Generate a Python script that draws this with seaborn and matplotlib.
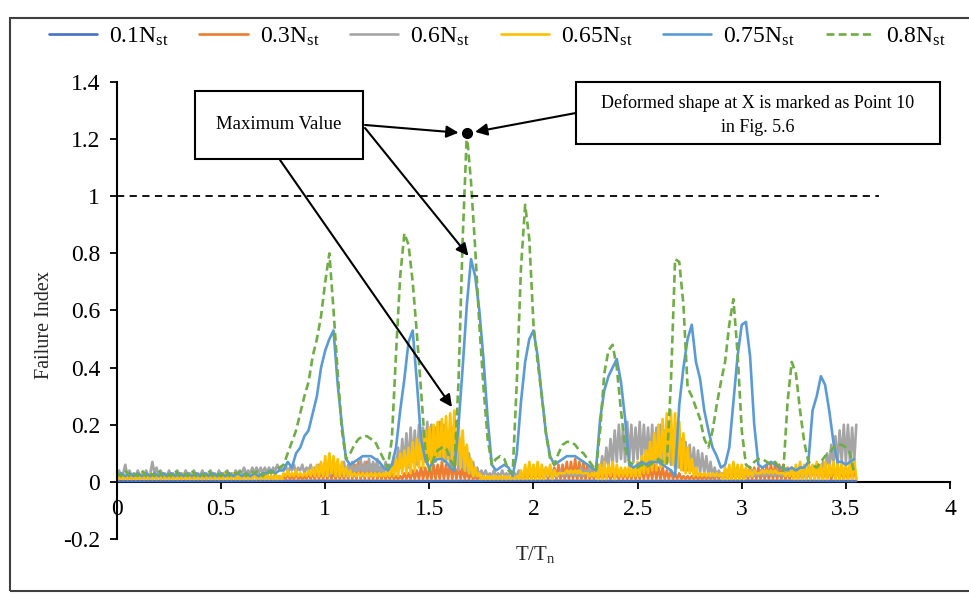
import numpy as np
import pandas as pd
import matplotlib
matplotlib.use("Agg")
import matplotlib.pyplot as plt
from matplotlib.patches import Rectangle
from matplotlib.lines import Line2D
from matplotlib.ticker import FuncFormatter
import seaborn as sns

# ---------------------------------------------------------------- data
# normalised time T/Tn
T_FINE = np.round(np.arange(356) * 0.01, 2)      # 0.00 ... 3.55
T_COARSE = np.round(np.arange(178) * 0.02, 2)    # 0.00 ... 3.54
T_SPARSE = [0.0, 0.5, 1.0, 1.5, 2.0, 2.5, 3.0, 3.55]

CASES = ["0.1", "0.3", "0.6", "0.65", "0.75", "0.8"]
COLORS = ["#4472C4", "#ED7D31", "#A5A5A5", "#FFC000", "#5B9BD5", "#70AD47"]

FAIL_LIMIT = 1.0
LIMIT_END = 3.66

fi_01 = [0.003, 0.003, 0.004, 0.003, 0.004, 0.003, 0.004, 0.003]

fi_03 = [
    0.02, 0.01, 0.02, 0.01, 0.02, 0.01, 0.02, 0.01, 0.02, 0.01,
    0.02, 0.01, 0.02, 0.01, 0.02, 0.01, 0.02, 0.01, 0.02, 0.01,
    0.02, 0.01, 0.02, 0.01, 0.02, 0.01, 0.02, 0.01, 0.02, 0.01,
    0.02, 0.01, 0.02, 0.01, 0.02, 0.01, 0.02, 0.01, 0.02, 0.01,
    0.02, 0.01, 0.02, 0.01, 0.02, 0.01, 0.02, 0.01, 0.02, 0.01,
    0.02, 0.01, 0.03, 0.01, 0.02, 0.01, 0.03, 0.01, 0.02, 0.01,
    0.02, 0.01, 0.03, 0.01, 0.02, 0.01, 0.03, 0.01, 0.02, 0.01,
    0.02, 0.01, 0.03, 0.01, 0.02, 0.01, 0.03, 0.01, 0.02, 0.01,
    0.02, 0.01, 0.03, 0.01, 0.02, 0.01, 0.03, 0.01, 0.02, 0.01,
    0.02, 0.01, 0.03, 0.01, 0.03, 0.01, 0.04, 0.01, 0.04, 0.01,
    0.05, 0.01, 0.05, 0.01, 0.04, 0.01, 0.05, 0.01, 0.04, 0.01,
    0.05, 0.01, 0.06, 0.01, 0.06, 0.01, 0.07, 0.01, 0.06, 0.01,
    0.07, 0.01, 0.06, 0.01, 0.06, 0.01, 0.05, 0.01, 0.04, 0.01,
    0.03, 0.01, 0.03, 0.01, 0.02, 0.01, 0.02, 0.01, 0.03, 0.01,
    0.03, 0.01, 0.04, 0.01, 0.04, 0.01, 0.05, 0.01, 0.05, 0.01,
    0.05, 0.01, 0.06, 0.01, 0.06, 0.01, 0.07, 0.01, 0.06, 0.01,
    0.07, 0.01, 0.06, 0.01, 0.06, 0.01, 0.05, 0.01, 0.04, 0.01,
    0.03, 0.01, 0.02, 0.01, 0.02, 0.01, 0.02, 0.01, 0.02, 0.01,
    0.02, 0.01, 0.02, 0.01, 0.02, 0.01, 0.02, 0.01, 0.02, 0.01,
    0.02, 0.01, 0.02, 0.01, 0.03, 0.01, 0.03, 0.01, 0.04, 0.01,
    0.04, 0.01, 0.04, 0.01, 0.04, 0.01, 0.05, 0.01, 0.05, 0.01,
    0.05, 0.01, 0.06, 0.01, 0.06, 0.01, 0.07, 0.01, 0.07, 0.01,
    0.08, 0.01, 0.07, 0.01, 0.07, 0.01, 0.06, 0.01, 0.05, 0.01,
    0.04, 0.01, 0.03, 0.01, 0.03, 0.01, 0.03, 0.01, 0.03, 0.01,
    0.03, 0.01, 0.04, 0.01, 0.04, 0.01, 0.04, 0.01, 0.05, 0.01,
    0.05, 0.01, 0.05, 0.01, 0.06, 0.01, 0.05, 0.01, 0.06, 0.01,
    0.05, 0.01, 0.05, 0.01, 0.04, 0.01, 0.04, 0.01, 0.03, 0.01,
    0.03, 0.01, 0.02, 0.01, 0.02, 0.01, 0.02, 0.01, 0.02, 0.01,
    0.02, 0.01, 0.02, 0.01, 0.02, 0.01, 0.02, 0.01, 0.03, 0.01,
    0.03, 0.01, 0.03, 0.01, 0.04, 0.01, 0.04, 0.01, 0.04, 0.01,
    0.04, 0.01, 0.04, 0.01, 0.05, 0.01, 0.05, 0.01, 0.05, 0.01,
    0.05, 0.01, 0.06, 0.01, 0.06, 0.01, 0.06, 0.01, 0.06, 0.01,
    0.06, 0.01, 0.05, 0.01, 0.05, 0.01, 0.05, 0.01, 0.04, 0.01,
    0.04, 0.01, 0.04, 0.01, 0.05, 0.01, 0.05, 0.01, 0.05, 0.01,
    0.05, 0.01, 0.05, 0.01, 0.05, 0.01, 0.05, 0.01, 0.04, 0.01,
    0.04, 0.01, 0.04, 0.01, 0.04, 0.01,
]

fi_06 = [
    0.02, 0.04, 0.02, 0.03, 0.06, 0.02, 0.04, 0.02, 0.03, 0.02,
    0.04, 0.02, 0.03, 0.02, 0.04, 0.02, 0.03, 0.07, 0.03, 0.05,
    0.02, 0.04, 0.02, 0.03, 0.02, 0.04, 0.02, 0.03, 0.02, 0.04,
    0.02, 0.03, 0.02, 0.04, 0.02, 0.03, 0.02, 0.04, 0.02, 0.03,
    0.02, 0.04, 0.02, 0.03, 0.02, 0.04, 0.02, 0.03, 0.02, 0.04,
    0.02, 0.03, 0.02, 0.04, 0.02, 0.03, 0.02, 0.04, 0.03, 0.04,
    0.03, 0.05, 0.03, 0.04, 0.03, 0.05, 0.03, 0.05, 0.03, 0.05,
    0.03, 0.05, 0.03, 0.05, 0.03, 0.05, 0.04, 0.06, 0.04, 0.05,
    0.04, 0.06, 0.03, 0.05, 0.04, 0.06, 0.03, 0.05, 0.04, 0.06,
    0.03, 0.05, 0.04, 0.06, 0.03, 0.05, 0.04, 0.06, 0.03, 0.05,
    0.03, 0.06, 0.02, 0.05, 0.03, 0.06, 0.02, 0.05, 0.03, 0.07,
    0.02, 0.06, 0.03, 0.07, 0.02, 0.06, 0.03, 0.08, 0.02, 0.07,
    0.03, 0.08, 0.02, 0.07, 0.03, 0.08, 0.02, 0.06, 0.03, 0.07,
    0.02, 0.06, 0.03, 0.09, 0.04, 0.12, 0.05, 0.15, 0.06, 0.17,
    0.05, 0.19, 0.07, 0.18, 0.06, 0.20, 0.08, 0.19, 0.07, 0.21,
    0.08, 0.20, 0.07, 0.19, 0.09, 0.21, 0.08, 0.20, 0.07, 0.18,
    0.06, 0.19, 0.05, 0.17, 0.04, 0.15, 0.05, 0.12, 0.04, 0.10,
    0.03, 0.07, 0.02, 0.05, 0.02, 0.04, 0.02, 0.04, 0.02, 0.03,
    0.02, 0.04, 0.02, 0.03, 0.02, 0.04, 0.02, 0.03, 0.02, 0.04,
    0.02, 0.03, 0.02, 0.04, 0.02, 0.03, 0.02, 0.04, 0.02, 0.03,
    0.02, 0.04, 0.02, 0.03, 0.02, 0.04, 0.02, 0.03, 0.02, 0.04,
    0.02, 0.03, 0.02, 0.04, 0.02, 0.03, 0.02, 0.04, 0.02, 0.03,
    0.02, 0.04, 0.02, 0.05, 0.02, 0.04, 0.03, 0.05, 0.02, 0.04,
    0.03, 0.06, 0.03, 0.09, 0.04, 0.12, 0.05, 0.15, 0.06, 0.18,
    0.07, 0.20, 0.08, 0.19, 0.07, 0.21, 0.08, 0.20, 0.07, 0.19,
    0.08, 0.21, 0.07, 0.20, 0.08, 0.19, 0.07, 0.20, 0.08, 0.19,
    0.07, 0.20, 0.06, 0.18, 0.07, 0.19, 0.06, 0.17, 0.05, 0.16,
    0.05, 0.15, 0.04, 0.14, 0.04, 0.13, 0.04, 0.12, 0.03, 0.11,
    0.03, 0.10, 0.03, 0.09, 0.02, 0.07, 0.02, 0.05, 0.02, 0.04,
    0.02, 0.03, 0.02, 0.04, 0.02, 0.03, 0.02, 0.04, 0.02, 0.03,
    0.02, 0.04, 0.02, 0.03, 0.02, 0.04, 0.02, 0.03, 0.02, 0.04,
    0.02, 0.03, 0.02, 0.04, 0.02, 0.03, 0.02, 0.04, 0.02, 0.03,
    0.02, 0.04, 0.02, 0.03, 0.02, 0.04, 0.02, 0.03, 0.02, 0.04,
    0.02, 0.04, 0.02, 0.05, 0.03, 0.05, 0.03, 0.06, 0.03, 0.07,
    0.04, 0.10, 0.05, 0.13, 0.06, 0.16, 0.06, 0.18, 0.07, 0.20,
    0.07, 0.20, 0.06, 0.19, 0.07, 0.20,
]

fi_065 = [
    0.02, 0.01, 0.03, 0.01, 0.02, 0.01, 0.03, 0.01, 0.02, 0.01,
    0.02, 0.01, 0.03, 0.01, 0.02, 0.01, 0.03, 0.01, 0.02, 0.01,
    0.02, 0.01, 0.03, 0.01, 0.02, 0.01, 0.03, 0.01, 0.02, 0.01,
    0.02, 0.01, 0.03, 0.01, 0.02, 0.01, 0.03, 0.01, 0.02, 0.01,
    0.02, 0.01, 0.03, 0.01, 0.02, 0.01, 0.03, 0.01, 0.02, 0.01,
    0.02, 0.01, 0.03, 0.01, 0.02, 0.01, 0.03, 0.01, 0.02, 0.01,
    0.02, 0.01, 0.03, 0.01, 0.02, 0.01, 0.03, 0.01, 0.02, 0.01,
    0.02, 0.01, 0.03, 0.01, 0.02, 0.01, 0.03, 0.01, 0.02, 0.01,
    0.03, 0.02, 0.04, 0.02, 0.03, 0.02, 0.04, 0.02, 0.03, 0.02,
    0.03, 0.02, 0.04, 0.02, 0.05, 0.02, 0.06, 0.02, 0.07, 0.02,
    0.09, 0.02, 0.10, 0.03, 0.09, 0.02, 0.08, 0.02, 0.07, 0.02,
    0.05, 0.02, 0.04, 0.02, 0.03, 0.02, 0.03, 0.02, 0.03, 0.02,
    0.03, 0.02, 0.03, 0.02, 0.03, 0.02, 0.03, 0.02, 0.03, 0.02,
    0.04, 0.02, 0.06, 0.02, 0.08, 0.02, 0.10, 0.03, 0.11, 0.03,
    0.12, 0.03, 0.14, 0.04, 0.15, 0.05, 0.17, 0.05, 0.18, 0.06,
    0.19, 0.06, 0.20, 0.07, 0.21, 0.08, 0.22, 0.07, 0.23, 0.08,
    0.24, 0.07, 0.25, 0.06, 0.22, 0.05, 0.18, 0.04, 0.13, 0.03,
    0.08, 0.02, 0.05, 0.02, 0.03, 0.01, 0.02, 0.01, 0.02, 0.01,
    0.02, 0.01, 0.02, 0.01, 0.02, 0.01, 0.02, 0.01, 0.02, 0.01,
    0.02, 0.01, 0.02, 0.01, 0.04, 0.01, 0.06, 0.01, 0.07, 0.01,
    0.06, 0.01, 0.07, 0.01, 0.06, 0.01, 0.05, 0.02, 0.06, 0.01,
    0.04, 0.02, 0.03, 0.03, 0.03, 0.03, 0.04, 0.03, 0.04, 0.03,
    0.04, 0.03, 0.04, 0.03, 0.03, 0.03, 0.03, 0.02, 0.03, 0.02,
    0.04, 0.01, 0.06, 0.01, 0.07, 0.01, 0.06, 0.02, 0.07, 0.01,
    0.06, 0.02, 0.05, 0.02, 0.05, 0.02, 0.06, 0.02, 0.05, 0.02,
    0.07, 0.02, 0.09, 0.03, 0.11, 0.03, 0.14, 0.04, 0.17, 0.04,
    0.20, 0.05, 0.22, 0.06, 0.24, 0.07, 0.25, 0.06, 0.24, 0.05,
    0.21, 0.04, 0.17, 0.03, 0.12, 0.03, 0.08, 0.02, 0.05, 0.02,
    0.03, 0.02, 0.03, 0.02, 0.03, 0.02, 0.03, 0.02, 0.03, 0.02,
    0.03, 0.01, 0.05, 0.01, 0.06, 0.01, 0.07, 0.01, 0.06, 0.01,
    0.06, 0.01, 0.05, 0.02, 0.04, 0.02, 0.04, 0.03, 0.03, 0.03,
    0.04, 0.03, 0.04, 0.03, 0.04, 0.03, 0.04, 0.03, 0.03, 0.03,
    0.03, 0.02, 0.04, 0.02, 0.05, 0.01, 0.06, 0.01, 0.07, 0.01,
    0.06, 0.01, 0.07, 0.01, 0.06, 0.01, 0.07, 0.01, 0.06, 0.01,
    0.07, 0.01, 0.06, 0.02, 0.07, 0.01, 0.06, 0.01, 0.07, 0.01,
    0.06, 0.01, 0.07, 0.01, 0.08, 0.01,
]

fi_075 = [
    0.02, 0.03, 0.02, 0.03, 0.02, 0.03, 0.02, 0.03, 0.02, 0.03,
    0.02, 0.03, 0.02, 0.03, 0.02, 0.03, 0.02, 0.03, 0.02, 0.03,
    0.02, 0.03, 0.02, 0.03, 0.02, 0.03, 0.02, 0.03, 0.02, 0.03,
    0.02, 0.03, 0.02, 0.03, 0.02, 0.03, 0.03, 0.04, 0.03, 0.04,
    0.04, 0.07, 0.05, 0.10, 0.12, 0.16, 0.18, 0.24, 0.30, 0.40,
    0.46, 0.50, 0.53, 0.34, 0.20, 0.08, 0.06, 0.07, 0.08, 0.09,
    0.09, 0.09, 0.08, 0.07, 0.05, 0.04, 0.06, 0.12, 0.25, 0.36,
    0.49, 0.53, 0.35, 0.15, 0.08, 0.05, 0.07, 0.08, 0.08, 0.07,
    0.05, 0.04, 0.20, 0.40, 0.62, 0.78, 0.72, 0.60, 0.43, 0.22,
    0.06, 0.04, 0.05, 0.06, 0.05, 0.02, 0.10, 0.28, 0.42, 0.50,
    0.53, 0.44, 0.30, 0.17, 0.09, 0.06, 0.07, 0.08, 0.09, 0.09,
    0.09, 0.08, 0.07, 0.06, 0.05, 0.04, 0.22, 0.32, 0.37, 0.40,
    0.43, 0.35, 0.22, 0.06, 0.05, 0.06, 0.07, 0.06, 0.07, 0.07,
    0.07, 0.06, 0.05, 0.04, 0.02, 0.27, 0.40, 0.50, 0.55, 0.42,
    0.36, 0.25, 0.18, 0.12, 0.09, 0.05, 0.06, 0.12, 0.28, 0.44,
    0.55, 0.56, 0.44, 0.20, 0.06, 0.05, 0.06, 0.07, 0.06, 0.05,
    0.05, 0.04, 0.05, 0.04, 0.05, 0.05, 0.07, 0.25, 0.30, 0.37,
    0.34, 0.25, 0.14, 0.07, 0.07, 0.06, 0.07, 0.08,
]

fi_08 = [
    0.03, 0.02, 0.04, 0.02, 0.03, 0.02, 0.04, 0.02, 0.03, 0.02,
    0.04, 0.02, 0.03, 0.02, 0.04, 0.02, 0.03, 0.02, 0.04, 0.02,
    0.03, 0.02, 0.04, 0.02, 0.03, 0.02, 0.04, 0.02, 0.03, 0.03,
    0.04, 0.02, 0.04, 0.03, 0.04, 0.02, 0.04, 0.03, 0.04, 0.05,
    0.06, 0.10, 0.14, 0.18, 0.24, 0.30, 0.35, 0.44, 0.50, 0.58,
    0.70, 0.80, 0.60, 0.38, 0.18, 0.08, 0.10, 0.13, 0.15, 0.16,
    0.16, 0.15, 0.14, 0.11, 0.08, 0.05, 0.15, 0.45, 0.72, 0.87,
    0.83, 0.70, 0.52, 0.32, 0.12, 0.04, 0.08, 0.11, 0.12, 0.12,
    0.08, 0.05, 0.35, 0.85, 1.22, 1.05, 0.82, 0.55, 0.33, 0.15,
    0.06, 0.08, 0.09, 0.08, 0.04, 0.03, 0.35, 0.75, 0.97, 0.85,
    0.55, 0.42, 0.30, 0.17, 0.08, 0.06, 0.10, 0.13, 0.14, 0.14,
    0.13, 0.11, 0.10, 0.08, 0.06, 0.04, 0.18, 0.38, 0.46, 0.48,
    0.40, 0.25, 0.12, 0.07, 0.06, 0.05, 0.06, 0.05, 0.06, 0.07,
    0.08, 0.07, 0.06, 0.35, 0.78, 0.77, 0.62, 0.33, 0.30, 0.26,
    0.22, 0.15, 0.12, 0.18, 0.27, 0.35, 0.42, 0.55, 0.64, 0.45,
    0.18, 0.06, 0.05, 0.07, 0.08, 0.08, 0.07, 0.06, 0.07, 0.05,
    0.04, 0.28, 0.42, 0.38, 0.25, 0.14, 0.07, 0.06, 0.05, 0.07,
    0.09, 0.10, 0.12, 0.13, 0.13, 0.12, 0.10, 0.03,
]

# ---------------------------------------------------------------- style
sns.set_style("ticks")
plt.rcParams["font.family"] = ["Liberation Serif", "DejaVu Serif"]
plt.rcParams["mathtext.fontset"] = "custom"
plt.rcParams["mathtext.rm"] = "Liberation Serif"
plt.rcParams["mathtext.it"] = "Liberation Serif:italic"
plt.rcParams["text.color"] = "black"

LABELS = [f"{c}N$_\\mathrm{{st}}$" for c in CASES]
SERIES = [
    (T_SPARSE, fi_01), (T_FINE, fi_03), (T_FINE, fi_06),
    (T_FINE, fi_065), (T_COARSE, fi_075), (T_COARSE, fi_08),
]
frames = [
    pd.DataFrame({"T": t, "FI": v, "case": lab})
    for lab, (t, v) in zip(LABELS, SERIES)
]
df = pd.concat(frames, ignore_index=True)

palette = dict(zip(LABELS, COLORS))
dash_map = dict(zip(LABELS, ["", "", "", "", "", (3, 1.6)]))
LW = 1.9

fig = plt.figure(figsize=(9.69, 5.94), dpi=100)
fig.patch.set_facecolor("white")
ax = fig.add_axes([0.1207, 0.0926, 0.8597, 0.7694])

sns.lineplot(
    data=df, x="T", y="FI", hue="case", style="case",
    hue_order=LABELS, style_order=LABELS, palette=palette, dashes=dash_map,
    estimator=None, sort=False, linewidth=LW, legend=False, ax=ax,
)

# failure threshold
ax.plot([0, LIMIT_END], [FAIL_LIMIT, FAIL_LIMIT], color="black",
        lw=1.3, ls=(0, (4, 3)), zorder=5)

# axes
ax.set_xlim(0, 4)
ax.set_ylim(-0.2, 1.4)
ax.set_xticks(np.arange(0, 4.01, 0.5))
ax.set_yticks(np.arange(-0.2, 1.41, 0.2))
fmt = FuncFormatter(lambda v, _: f"{round(v, 2) + 0:g}")
ax.xaxis.set_major_formatter(fmt)
ax.yaxis.set_major_formatter(fmt)
ax.tick_params(axis="both", direction="out", length=5, width=1.3,
               labelsize=17, colors="black")
ax.tick_params(axis="x", pad=7)
ax.tick_params(axis="y", pad=7)
for s in ("top", "right"):
    ax.spines[s].set_visible(False)
ax.spines["left"].set_linewidth(1.5)
ax.spines["bottom"].set_linewidth(1.5)
ax.spines["left"].set_color("black")
ax.spines["bottom"].set_color("black")
ax.spines["bottom"].set_position(("data", 0))
ax.spines["bottom"].set_zorder(1)

ax.set_xlabel("T/T$_\\mathrm{n}$", fontsize=15)
ax.set_ylabel("Failure Index", fontsize=14.5)
ax.xaxis.label.set_va("center")
ax.yaxis.label.set_va("center")
ax.xaxis.set_label_coords(0.502, -0.033)
ax.yaxis.set_label_coords(-0.0864, 0.468)

# legend across the top
handles = [
    Line2D([], [], color=c, lw=LW, ls="-" if d == "" else (0, d))
    for c, d in zip(COLORS, dash_map.values())
]
fig.legend(handles, LABELS, loc="center", bbox_to_anchor=(0.513, 0.938),
           ncol=6, frameon=False, fontsize=17, handlelength=2.05,
           handletextpad=0.5, columnspacing=1.3)

# ---------------------------------------------------------------- notes
g = int(np.argmax(fi_08))
peak_x, peak_y = T_COARSE[g], fi_08[g]
b = int(np.argmax(fi_075))
y_idx = int(np.argmax(fi_065))
ax.plot([peak_x], [peak_y], "o", color="black", ms=7, zorder=8)

box_kw = dict(transform=fig.transFigure, fill=False, edgecolor="black",
              lw=1.5, zorder=10)
fig.patches.append(Rectangle((0.2012, 0.7323), 0.1734, 0.1145, **box_kw))
fig.text(0.2879, 0.7896, "Maximum Value", ha="center", va="center",
         fontsize=13.5)
fig.patches.append(Rectangle((0.5944, 0.7576), 0.3756, 0.1044, **box_kw))
fig.text(0.7822, 0.8064,
         "Deformed shape at X is marked as Point 10\nin Fig. 5.6",
         ha="center", va="center", fontsize=13, linespacing=1.5)

arrow = dict(arrowstyle="-|>", color="black", lw=1.5, mutation_scale=18,
             shrinkA=0)
ax.annotate("", xy=(peak_x, peak_y), xytext=(0.3767, 0.7896),
            textcoords="figure fraction",
            arrowprops=dict(arrow, shrinkB=6), zorder=9)
ax.annotate("", xy=(T_COARSE[b], fi_075[b]), xytext=(0.3767, 0.7845),
            textcoords="figure fraction",
            arrowprops=dict(arrow, shrinkB=3), zorder=9)
ax.annotate("", xy=(T_FINE[y_idx], fi_065[y_idx]), xytext=(0.289, 0.7306),
            textcoords="figure fraction",
            arrowprops=dict(arrow, shrinkB=3), zorder=9)
ax.annotate("", xy=(peak_x, peak_y), xytext=(0.5944, 0.8098),
            textcoords="figure fraction",
            arrowprops=dict(arrow, shrinkB=6), zorder=9)

# outer frame
fig.patches.append(Rectangle((0.0103, 0.0051), 1.0, 0.9646,
                             transform=fig.transFigure, fill=False,
                             edgecolor="#404040", lw=1.5))

fig.savefig("out.png", dpi=100, facecolor="white")
